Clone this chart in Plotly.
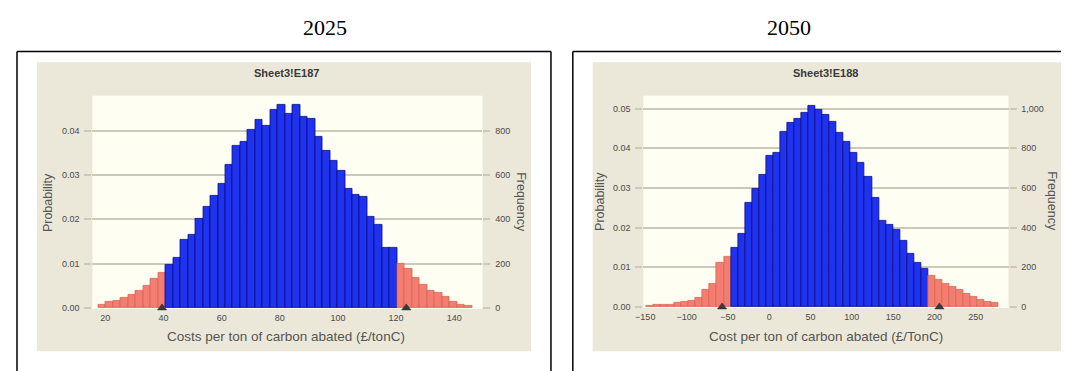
import plotly.graph_objects as go

W, H = 1069, 371
# the page body has an 8px margin; reference pixel positions are shifted by it
OFF_X, OFF_Y = 8, 8

# ---------------- data ----------------
trials = 20000

# 2025 forecast (Sheet3!E187): 50 bins
bin_start_2025 = 17.6
bin_width_2025 = 2.57
prob_2025 = [0.0008, 0.0013, 0.0015, 0.0022, 0.0029, 0.0039, 0.0050, 0.0065, 0.0080,
             0.0098, 0.0113, 0.0154, 0.0165, 0.0202, 0.0228, 0.0254, 0.0280, 0.0324,
             0.0367, 0.0376, 0.0402, 0.0424, 0.0412, 0.0447, 0.0458, 0.0439, 0.0458,
             0.0432, 0.0428, 0.0387, 0.0354, 0.0332, 0.0310, 0.0268, 0.0256, 0.0250,
             0.0206, 0.0187, 0.0135, 0.0135,
             0.0100, 0.0088, 0.0068, 0.0052, 0.0038, 0.0033, 0.0024, 0.0014, 0.0008, 0.0004]
certainty_2025 = [40.7, 120.4]
grabbers_2025 = [39.5, 123.5]
xticks_2025 = [20, 40, 60, 80, 100, 120, 140]
yticks_2025 = [0.00, 0.01, 0.02, 0.03, 0.04]
freqticks_2025 = [0, 200, 400, 600, 800]

# 2050 forecast (Sheet3!E188): 50 bins
bin_start_2050 = -148.8
bin_width_2050 = 8.53
prob_2050 = [0.0004, 0.0005, 0.0006, 0.0005, 0.0010, 0.0014, 0.0016, 0.0022, 0.0042, 0.0058,
             0.0110, 0.0126,
             0.0148, 0.0185, 0.0262, 0.0298, 0.0334, 0.0380, 0.0388, 0.0442, 0.0463, 0.0475,
             0.0488, 0.0508, 0.0496, 0.0483, 0.0467, 0.0438, 0.0417, 0.0388, 0.0362, 0.0328,
             0.0275, 0.0216, 0.0208, 0.0194, 0.0166, 0.0134, 0.0112, 0.0095,
             0.0078, 0.0068, 0.0058, 0.0050, 0.0042, 0.0033, 0.0026, 0.0019, 0.0014, 0.0010]
certainty_2050 = [-47.0, 192.0]
grabbers_2050 = [-57.0, 206.0]
xticks_2050 = [-150, -100, -50, 0, 50, 100, 150, 200, 250]
yticks_2050 = [0.00, 0.01, 0.02, 0.03, 0.04, 0.05]
freqticks_2050 = [0, 200, 400, 600, 800, 1000]

# ---------------- styling ----------------
BLUE = "#1f33ee"
BLUE_LINE = "#0a0a8a"
RED = "#f27d70"
RED_LINE = "#dc6456"
GRID = "#cdc9b9"
BEIGE = "#ebe8da"
CREAM = "#fffef2"
TICKC = "#4a4a4a"


def fx(p):
    return (p - OFF_X) / W


def fy(p):
    return 1 - (p - OFF_Y) / H


fig = go.Figure()


def add_panel(start, width, probs, certainty, grabbers, xa, ya, ya2):
    centers = [start + (i + 0.5) * width for i in range(len(probs))]
    inside = [certainty[0] <= c <= certainty[1] for c in centers]
    colors = [BLUE if k else RED for k in inside]
    lcolors = [BLUE_LINE if k else RED_LINE for k in inside]
    fig.add_trace(go.Bar(x=centers, y=probs, width=width, xaxis=xa, yaxis=ya,
                         marker=dict(color=colors, line=dict(color=lcolors, width=0.8)),
                         showlegend=False, hoverinfo="x+y"))
    fig.add_trace(go.Scatter(x=centers, y=[p * trials for p in probs], xaxis=xa, yaxis=ya2,
                             mode="markers", marker=dict(opacity=0), showlegend=False,
                             hoverinfo="skip"))
    # certainty-range grabbers on the baseline
    fig.add_trace(go.Scatter(x=grabbers, y=[0] * len(grabbers), xaxis=xa, yaxis=ya,
                             mode="markers", cliponaxis=False,
                             marker=dict(symbol="triangle-up", size=8, color="#3a3a3a",
                                         line=dict(color="#222222", width=0.5)),
                             showlegend=False, hoverinfo="skip"))


add_panel(bin_start_2025, bin_width_2025, prob_2025, certainty_2025, grabbers_2025, "x", "y", "y2")
add_panel(bin_start_2050, bin_width_2050, prob_2050, certainty_2050, grabbers_2050, "x2", "y3", "y4")

tickfont = dict(family="Liberation Sans, Arial", size=9, color=TICKC)

yr1 = 0.0479
yr2 = 0.0532

common_y = dict(showgrid=True, gridcolor=GRID, gridwidth=1.5, ticks="outside", ticklen=7,
                tickcolor=GRID, tickwidth=1.5, zeroline=False, showline=False,
                tickfont=tickfont, ticklabelstandoff=3)
common_x = dict(showgrid=False, ticks="", zeroline=False, showline=False, tickfont=dict(
    family="Liberation Sans, Arial", size=9, color=TICKC), ticklabelstandoff=3)

fig.update_layout(
    width=W, height=H,
    margin=dict(l=0, r=0, t=0, b=0),
    paper_bgcolor="white",
    plot_bgcolor="rgba(0,0,0,0)",
    barmode="overlay",
    bargap=0,
    xaxis=dict(domain=[fx(85), fx(478)], range=[15.56, 149.7], tickvals=xticks_2025,
               anchor="y", **common_x),
    yaxis=dict(domain=[fy(312), fy(97)], range=[0, yr1], tickvals=yticks_2025,
               tickformat=".2f", anchor="x", **common_y),
    yaxis2=dict(overlaying="y", side="right", anchor="x", range=[0, yr1 * trials],
                tickvals=freqticks_2025, showgrid=False, ticks="outside", ticklen=7,
                tickcolor=GRID, tickwidth=1.5, zeroline=False, tickfont=tickfont,
                ticklabelstandoff=3),
    xaxis2=dict(domain=[fx(640), fx(1008)], range=[-152.4, 289.6], tickvals=xticks_2050,
                anchor="y3", **common_x),
    yaxis3=dict(domain=[fy(311), fy(97)], range=[0, yr2], tickvals=yticks_2050,
                tickformat=".2f", anchor="x2", **common_y),
    yaxis4=dict(overlaying="y3", side="right", anchor="x2", range=[0, yr2 * trials],
                tickvals=freqticks_2050, tickformat=",", showgrid=False, ticks="outside",
                ticklen=7, tickcolor=GRID, tickwidth=1.5, zeroline=False, tickfont=tickfont,
                ticklabelstandoff=3),
)

shapes = []
# beige chart panels
for x0, x1 in [(29, 527), (589, 1062)]:
    shapes.append(dict(type="rect", xref="paper", yref="paper", x0=fx(x0), x1=fx(x1),
                       y0=fy(356), y1=fy(63), fillcolor=BEIGE, line=dict(width=0), layer="below"))
# cream plot areas
for x0, x1, yb in [(85, 478, 313), (640, 1008, 312)]:
    shapes.append(dict(type="rect", xref="paper", yref="paper", x0=fx(x0), x1=fx(x1),
                       y0=fy(yb), y1=fy(97), fillcolor=CREAM, line=dict(width=0), layer="below"))
# outer boxes (open at the bottom)
box = dict(color="black", width=1.5)
for (x0, y0, x1, y1) in [(9, 52, 547, 52), (9, 52, 9, 380), (547, 52, 547, 380),
                         (569, 52, 1080, 52), (569, 52, 569, 380)]:
    shapes.append(dict(type="line", xref="paper", yref="paper", x0=fx(x0), x1=fx(x1),
                       y0=fy(y0), y1=fy(y1), line=box))
fig.update_layout(shapes=shapes)

ann = []


def text(x, y, s, size, color="#333333", family="Liberation Sans, Arial", angle=0, bold=False):
    ann.append(dict(x=fx(x), y=fy(y), xref="paper", yref="paper", text=f"<b>{s}</b>" if bold else s,
                    showarrow=False, textangle=angle, xanchor="center", yanchor="middle",
                    font=dict(size=size, color=color, family=family)))


# year headings
text(319, 28, "2025", 22, "black", "Liberation Serif, Times New Roman")
text(787, 28, "2050", 22, "black", "Liberation Serif, Times New Roman")
# chart titles
text(281, 74, "Sheet3!E187", 11, "#3a3a3a", bold=True)
text(824, 74, "Sheet3!E188", 11, "#3a3a3a", bold=True)
# axis titles
text(280, 341, "Costs per ton of carbon abated (£/tonC)", 13.5, "#555555")
text(824, 341, "Cost per ton of carbon abated (£/TonC)", 13.5, "#555555")
text(41, 205, "Probability", 12.5, "#555555", angle=-90)
text(516, 205, "Frequency", 12.5, "#555555", angle=90)
text(597, 204, "Probability", 12.5, "#555555", angle=-90)
text(1051, 204, "Frequency", 12.5, "#555555", angle=90)
fig.update_layout(annotations=ann)

fig.write_html("out.html")
